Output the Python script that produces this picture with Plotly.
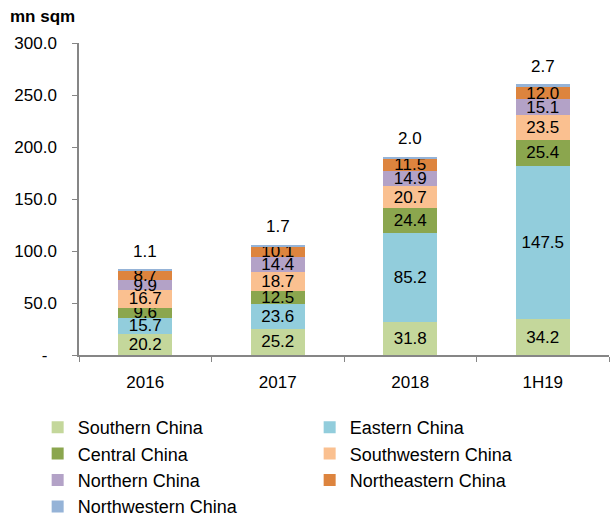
import plotly.graph_objects as go

categories = ["2016", "2017", "2018", "1H19"]
series_names = ["Southern China", "Eastern China", "Central China", "Southwestern China",
                "Northern China", "Northeastern China", "Northwestern China"]
southern = [20.2, 25.2, 31.8, 34.2]
eastern = [15.7, 23.6, 85.2, 147.5]
central = [9.6, 12.5, 24.4, 25.4]
southwestern = [16.7, 18.7, 20.7, 23.5]
northern = [9.9, 14.4, 14.9, 15.1]
northeastern = [8.7, 10.1, 11.5, 12.0]
northwestern = [1.1, 1.7, 2.0, 2.7]
values = [southern, eastern, central, southwestern, northern, northeastern, northwestern]
colors = ["#C4D79B", "#92CDDC", "#8BA64E", "#FAC090", "#B3A2C7", "#DD843E", "#95B3D7"]

y_ticks = [0, 50, 100, 150, 200, 250, 300]
y_ticktext = ["-\u00a0\u00a0", "50.0", "100.0", "150.0", "200.0", "250.0", "300.0"]

FONT = "Liberation Sans, Arial, sans-serif"
fig = go.Figure()
for name, vals, col in zip(series_names, values, colors):
    last = name == "Northwestern China"
    fig.add_trace(go.Bar(
        x=categories, y=vals, name=name, marker=dict(color=col, line=dict(width=0)),
        text=[f"{v:.1f}" for v in vals],
        textposition="none" if last else "inside",
        insidetextanchor="middle", textangle=0,
        textfont=dict(color="black", size=17, family=FONT),
    ))

totals = [sum(v[i] for v in values) for i in range(len(categories))]
for i, (tot, v) in enumerate(zip(totals, northwestern)):
    fig.add_annotation(x=i, y=tot, text=f"{v:.1f}", showarrow=False,
                       yanchor="middle", yshift=18,
                       font=dict(color="black", size=17, family=FONT))

fig.update_layout(
    barmode="stack", bargap=0.59,
    width=614, height=519,
    margin=dict(l=79, r=5, t=43, b=164, autoexpand=False),
    paper_bgcolor="white", plot_bgcolor="white",
    font=dict(family=FONT, size=17, color="black"),
    uniformtext=dict(minsize=17, mode="show"),
    title=dict(text="<b>mn sqm</b>", x=10/614, xanchor="left", xref="container",
               y=1-10/519, yanchor="top", yref="container",
               font=dict(size=17, family=FONT, color="black")),
    showlegend=True,
    legend=dict(orientation="h", traceorder="normal",
                x=-0.078, xanchor="left", y=-0.173, yanchor="top",
                entrywidth=227, entrywidthmode="pixels",
                font=dict(size=18, family=FONT, color="black"),
                itemclick=False),
    xaxis=dict(type="category", categoryorder="array", categoryarray=categories,
               range=[-0.5, len(categories) - 0.5],
               showline=True, linecolor="#868686", linewidth=1.5,
               ticks="outside", tickson="boundaries", ticklen=5, tickcolor="#868686",
               tickfont=dict(size=17, family=FONT, color="black"), showgrid=False,
               ticklabelstandoff=11),
    yaxis=dict(range=[0, 300], tickvals=y_ticks, ticktext=y_ticktext, showline=True,
               linecolor="#868686", linewidth=1.5, ticks="outside", ticklen=5,
               tickcolor="#868686", showgrid=False, zeroline=False,
               tickfont=dict(size=17, family=FONT, color="black"),
               ticklabelstandoff=12),
)
fig.write_html("out.html")
